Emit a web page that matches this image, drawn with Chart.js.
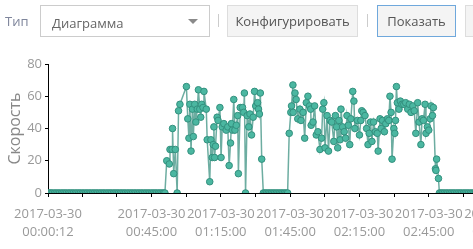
<!DOCTYPE html>
<html><head><meta charset="utf-8">
<script src="https://cdn.jsdelivr.net/npm/chart.js@4/dist/chart.umd.min.js"></script>
<style>
html,body{margin:0;padding:0;width:473px;height:249px;overflow:hidden;background:#fff;font-family:'Open Sans',sans-serif;}
#wrap{position:absolute;left:0;top:0;width:540px;height:249px;}
#bar div{position:absolute;box-sizing:border-box;font-size:13px;}
.lbl{left:5px;top:12px;color:#7f869c;}
.sel{left:40px;top:5px;width:170px;height:32px;border:1px solid #ccc;background:#fff;color:#666;line-height:30px;padding-left:11px;padding-top:2px;}
.arr{left:188px;top:19px;width:0;height:0;border-left:5px solid transparent;border-right:5px solid transparent;border-top:5px solid #8a8a8a;}
.sep{top:14px;width:1px;height:13px;background:#ccc;}
.btn{top:5px;height:32px;border:1px solid #ddd;background:#f4f4f4;color:#555;line-height:30px;text-align:center;}
</style></head>
<body>
<div id="wrap"><canvas id="c" width="540" height="249"></canvas></div>
<div id="bar">
  <div class="lbl">Тип</div>
  <div class="sel">Диаграмма</div>
  <div class="arr"></div>
  <div class="sep" style="left:218px"></div>
  <div class="btn" style="left:227px;width:131px">Конфигурировать</div>
  <div class="sep" style="left:367px"></div>
  <div class="btn" style="left:377px;width:79px;border-color:#6fa8dc">Показать</div>
  <div class="btn" style="left:465px;width:40px"></div>
</div>
<script>
// time in minutes after 2017-03-30 00:00:00
const times = [
 0.2,0.9,1.5,2.2,3,3.7,4.5,5.2,6,6.7,7.5,8.2,9,9.7,10.5,11.2,12,12.7,13.5,14.2,15,15.7,16.5,17.2,18,18.7,19.5,20.2,21,21.7,22.5,23.2,24,24.7,
 25.5,26.2,27,27.7,28.5,29.2,30,30.7,31.5,32.2,33,33.7,34.5,35.2,36,36.7,37.5,38.2,39,39.7,40.5,41.2,42,42.7,43.5,44.2,45,45.7,46.5,47.2,48,48.7,49.5,50.2,50.8,
 51.6,52.7,53.0,53.9,54.1,54.6,55.3,56.1,56.7,57.3,60.1,60.7,61.2,61.6,62.1,62.7,63.1,63.7,64.2,64.8,65.3,65.9,66.3,66.7,67.3,67.7,68.7,69.1,70.2,70.7,
 71.3,71.7,72.0,72.3,72.7,73.4,73.8,74.6,75.1,75.6,76.3,77.3,78.0,78.6,79.2,79.6,80.0,80.6,81.1,81.7,82.3,82.6,83.4,84.4,84.9,85.2,85.7,86.4,87.1,87.6,
 88.3,89.0,89.6,90.1,90.9,91.3,91.7,92.1,92.7,93.4,94.1,94.8,95.5,96.2,96.9,97.6,98.3,99,99.7,100.4,101.1,101.8,102.5,103.2,103.9,
 104.6,105.3,105.6,106.2,106.3,107.1,107.6,108.3,109.2,109.7,110.6,111.3,112.0,112.7,113.4,113.9,114.1,114.9,115.6,116.3,117.0,117.9,118.6,119.1,119.6,
 120.1,121.0,121.6,122.3,123.0,123.9,124.6,125.1,125.6,126.1,126.6,127.0,127.7,128.4,129.0,129.6,130.2,130.8,131.3,132.1,132.6,133.0,134.1,135.0,135.6,
 136.0,136.6,137.4,138.1,138.7,139.2,139.8,140.4,141.1,141.9,142.7,143.1,143.9,144.4,145.0,145.8,146.4,147.1,147.7,148.2,148.7,149.1,149.9,150.3,150.6,
 151.0,151.4,152.1,152.7,153.4,154.2,155.0,155.9,156.6,157.3,158.1,158.7,159.4,160.2,160.8,161.6,162.1,162.7,163.4,163.8,164.4,165.0,165.6,166.0,166.6,
 167.0,167.9,168.1,168.4,169.2,169.6,170.3,171,171.7,172.5,173.2,174,174.7,175.5,176.2,177,177.7,178.5,179.2,180,180.7,181.5,182.2,183,183.7,184.5,
 185.2,186,186.7,187.5,188.2,189,189.7,190.5,191.2,192,192.7,193.5,194.2,195
];
const speeds = [
 0,0,0,0,0,0,0,0,0,0,0,0,0,0,0,0,0,0,0,0,0,0,0,0,0,0,0,0,0,0,0,0,0,0,
 0,0,0,0,0,0,0,0,0,0,0,0,0,0,0,0,0,0,0,0,0,0,0,0,0,0,0,0,0,0,0,0,0,0,0,
 20,18,27,27,40,12,27,0,51,55,66,46,34,55,26,52,35,55,44,52,64,52,47,55,53,63,52,33,7,33,
 22,30,41,22,29,47,45,53,22,41,43,39,41,17,31,43,39,58,39,42,48,12,53,53,50,62,0,48,41,49,
 36,47,63,54,56,52,49,62,21,0,0,0,0,0,0,0,0,0,0,0,0,0,0,0,0,
 37,50,54,67,50,62,58,46,52,45,50,34,56,60,54,52,42,44,54,36,38,27,34,52,56,
 28,48,26,45,44,32,48,41,28,45,33,52,41,38,34,48,42,30,46,63,57,40,45,36,45,
 51,50,48,40,30,37,44,32,44,38,37,26,46,40,45,38,43,46,45,60,50,21,40,37,45,
 66,56,52,57,55,55,56,52,55,50,54,51,37,56,44,30,46,45,55,37,41,39,46,54,48,
 53,15,14,21,9,0,0,0,0,0,0,0,0,0,0,0,0,0,0,0,0,0,0,0,0,0,
 0,0,0,0,0,0,0,0,0,0,0,0,0,0
];
const yTickValues = [0, 20, 40, 60, 80];
const xTickValues = [0.2, 15, 30, 45, 60, 75, 90, 105, 120, 135, 150, 165, 180, 195];
const xTickDates = ['2017-03-30','','','2017-03-30','','2017-03-30','','2017-03-30','','2017-03-30','','2017-03-30','','2017-03-30'];
const xTickTimes = ['00:00:12','','','00:45:00','','01:15:00','','01:45:00','','02:15:00','','02:45:00','','03:15:00'];

const font = {family: "'Open Sans', sans-serif", size: 13, lineHeight: 1.4};
new Chart(document.getElementById('c'), {
  type: 'line',
  data: {datasets: [{
    data: times.map((t, i) => ({x: t, y: speeds[i]})),
    borderColor: 'rgba(47,138,121,0.7)',
    borderWidth: 1.5,
    pointRadius: 3.3,
    pointBackgroundColor: '#4bb7a1',
    pointBorderColor: '#33907e',
    pointBorderWidth: 1,
    tension: 0
  }]},
  options: {
    responsive: false, animation: false, events: [],
    layout: {padding: {top: 64, right: 37, left: 0, bottom: 0}},
    plugins: {legend: {display: false}, tooltip: {enabled: false}},
    scales: {
      x: {
        type: 'linear', min: 0.2, max: 195,
        afterBuildTicks: s => { s.ticks = xTickValues.map(v => ({value: v})); },
        afterFit: s => { s.height = 56; },
        grid: {display: true, drawOnChartArea: false, drawTicks: true, tickLength: 4, color: '#000', tickColor: '#000'},
        border: {display: true, color: '#000', width: 1},
        ticks: {autoSkip: false, maxRotation: 0, minRotation: 0, padding: 8, color: '#999', font: font,
          callback: (v, i) => xTickDates[i] ? [xTickDates[i], xTickTimes[i]] : ''}
      },
      y: {
        min: 0, max: 80,
        afterBuildTicks: s => { s.ticks = yTickValues.map(v => ({value: v})); },
        afterFit: s => { s.width = 48; },
        title: {display: true, text: 'Скорость', color: '#888', font: {family: "'Open Sans', sans-serif", size: 16}, padding: {top: 6, bottom: 0}},
        grid: {display: true, drawOnChartArea: false, drawTicks: true, tickLength: 3, color: '#000', tickColor: '#000'},
        border: {display: true, color: '#000', width: 1},
        ticks: {padding: 3, color: '#999', font: {family: "'Open Sans', sans-serif", size: 13}}
      }
    }
  }
});
</script>
</body></html>
